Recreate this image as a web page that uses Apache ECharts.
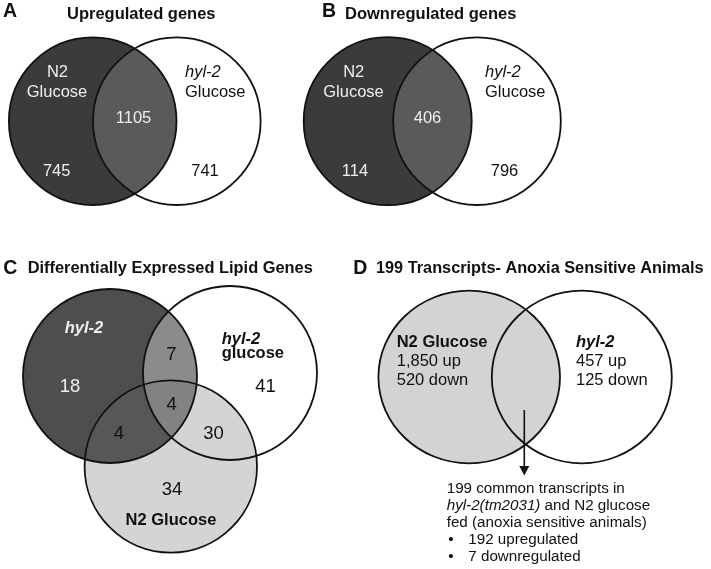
<!DOCTYPE html>
<html><head><meta charset="utf-8">
<script src="https://cdn.jsdelivr.net/npm/echarts@6/dist/echarts.min.js"></script>
<style>html,body{margin:0;padding:0;background:#fff}#chart{width:711px;height:569px}</style>
</head><body><div id="chart"></div>
<script>
// ---------------- DATA ----------------
const panelLetters = ['A', 'B', 'C', 'D'];
const panelTitles = ['Upregulated genes', 'Downregulated genes',
  'Differentially Expressed Lipid Genes', '199 Transcripts- Anoxia Sensitive Animals'];
const upSetNames = [['N2', 'Glucose'], ['hyl-2', 'Glucose']];
const upCounts = [745, 1105, 741];          // N2 only, both, hyl-2 only
const downSetNames = [['N2', 'Glucose'], ['hyl-2', 'Glucose']];
const downCounts = [114, 406, 796];        // N2 only, both, hyl-2 only
const lipidSetNames = ['hyl-2', ['hyl-2', 'glucose'], 'N2 Glucose'];
// hyl-2 only, hyl-2∩hyl-2 glucose, hyl-2 glucose only, all three, hyl-2∩N2, hyl-2 glucose∩N2, N2 only
const lipidCounts = [18, 7, 41, 4, 4, 30, 34];
const anoxiaSetNames = ['N2 Glucose', 'hyl-2'];
const anoxiaUp = [1850, 457];
const anoxiaDown = [520, 125];
const commonTotal = 199;
const commonUpDown = [192, 7];

// ---------------- LAYOUT / STYLE ----------------
const FF = '"Liberation Sans", Arial, Helvetica, sans-serif';
const LIGHT = '#eeeeee', DARK = '#111';
const circles = [
  // panel A
  {cx: 92.7, cy: 121.2, rx: 83.8, ry: 83.8, fill: '#3b3b3b'},
  {cx: 176.8, cy: 121.2, rx: 83.8, ry: 83.8, fill: 'rgba(255,255,255,0.16)'},
  // panel B
  {cx: 387.7, cy: 121.2, rx: 84, ry: 84, fill: '#3b3b3b'},
  {cx: 477, cy: 121.2, rx: 83.8, ry: 83.8, fill: 'rgba(255,255,255,0.16)'},
  // panel C
  {cx: 110, cy: 376, rx: 87, ry: 87, fill: '#4e4e4e'},
  {cx: 230, cy: 373, rx: 87, ry: 87, fill: 'rgba(255,255,255,0.35)'},
  {cx: 170.8, cy: 466.5, rx: 86.2, ry: 86.2, fill: 'rgba(109,109,109,0.294)'},
  // panel D
  {cx: 469.2, cy: 377, rx: 90.8, ry: 86.3, fill: '#d3d3d3'},
  {cx: 581.8, cy: 377, rx: 90, ry: 86.3, fill: 'rgba(255,255,255,0)'}
];

function lab(x, y, text, o) {
  return Object.assign({x, y, text: String(text), size: 16.5, color: DARK, align: 'center',
    weight: 'normal', style: 'normal'}, o || {});
}
const labels = [];
// titles
const letterPos = [[3, 11.5], [322, 11.5], [3.3, 268.4], [353.3, 268.4]];
const titlePos = [[67, 14], [345, 14], [27.7, 268.6], [376, 268.6]];
const titleSize = [16.5, 16.5, 16.4, 16.3];
panelLetters.forEach((t, i) => labels.push(lab(letterPos[i][0], letterPos[i][1], t,
  {size: 19.5, weight: 'bold', align: 'left'})));
panelTitles.forEach((t, i) => labels.push(lab(titlePos[i][0], titlePos[i][1], t,
  {size: titleSize[i], weight: 'bold', align: 'left'})));
// panel A
labels.push(lab(57.5, 72.5, upSetNames[0][0], {color: LIGHT}));
labels.push(lab(57, 92, upSetNames[0][1], {color: LIGHT}));
labels.push(lab(185, 72.5, upSetNames[1][0], {align: 'left', style: 'italic'}));
labels.push(lab(185, 92, upSetNames[1][1], {align: 'left'}));
labels.push(lab(56.7, 171, upCounts[0], {color: LIGHT}));
labels.push(lab(133.5, 118.5, upCounts[1], {color: LIGHT}));
labels.push(lab(205, 171, upCounts[2]));
// panel B
labels.push(lab(353.7, 72.5, downSetNames[0][0], {color: LIGHT}));
labels.push(lab(353.5, 92, downSetNames[0][1], {color: LIGHT}));
labels.push(lab(485, 72.5, downSetNames[1][0], {align: 'left', style: 'italic'}));
labels.push(lab(485, 92, downSetNames[1][1], {align: 'left'}));
labels.push(lab(355, 171, downCounts[0], {color: LIGHT}));
labels.push(lab(427.5, 118.5, downCounts[1], {color: LIGHT}));
labels.push(lab(504.5, 171, downCounts[2]));
// panel C
labels.push(lab(84, 328.5, lipidSetNames[0], {color: LIGHT, weight: 'bold', style: 'italic'}));
labels.push(lab(221.7, 339.8, lipidSetNames[1][0], {align: 'left', weight: 'bold', style: 'italic'}));
labels.push(lab(221.7, 353.7, lipidSetNames[1][1], {align: 'left', weight: 'bold'}));
labels.push(lab(171, 520.8, lipidSetNames[2], {weight: 'bold'}));
const lipidPos = [[70, 386.7], [171.5, 354.5], [265.5, 386.7], [171.7, 404.7], [119, 434], [213.5, 434], [172, 489.7]];
lipidCounts.forEach((v, i) => labels.push(lab(lipidPos[i][0], lipidPos[i][1], v,
  {size: 18.5, color: i === 0 ? LIGHT : DARK})));
// panel D
const dX = [396.7, 576];
anoxiaSetNames.forEach((n, i) => {
  labels.push(lab(dX[i], 342.3, n, {align: 'left', weight: 'bold', style: i === 1 ? 'italic' : 'normal'}));
  labels.push(lab(dX[i], 361.5, anoxiaUp[i].toLocaleString('en-US') + ' up', {align: 'left'}));
  labels.push(lab(dX[i], 380, anoxiaDown[i] + ' down', {align: 'left'}));
});
const noteSize = 15.2;
labels.push(lab(446.7, 488.8, commonTotal + ' common transcripts in', {align: 'left', size: noteSize}));
labels.push(lab(446.7, 505.6, '{i|hyl-2(tm2031)}{n| and N2 glucose}', {align: 'left', size: noteSize, rich: true}));
labels.push(lab(446.7, 522.4, 'fed (anoxia sensitive animals)', {align: 'left', size: noteSize}));
labels.push(lab(451, 539.4, '•', {size: noteSize}));
labels.push(lab(468.3, 539.4, commonUpDown[0] + ' upregulated', {align: 'left', size: noteSize}));
labels.push(lab(451, 556.6, '•', {size: noteSize}));
labels.push(lab(468.3, 556.6, commonUpDown[1] + ' downregulated', {align: 'left', size: noteSize}));

const arrows = [{x: 524.3, y1: 410, y2: 475.5, head: 9.5, half: 5}];

// ---------------- CHART ----------------
const chart = echarts.init(document.getElementById('chart'), null, {renderer: 'canvas'});

function circleItem(outline) {
  return function (params, api) {
    const c = circles[api.value(2)];
    const p = api.coord([api.value(0), api.value(1)]);
    const s = api.size([c.rx, c.ry]);
    return {
      type: 'ellipse',
      shape: {cx: p[0], cy: p[1], rx: s[0], ry: s[1]},
      style: outline ? {fill: 'none', stroke: '#111', lineWidth: 1.8}
                     : {fill: c.fill, stroke: 'none'}
    };
  };
}
function textItem(params, api) {
  const m = labels[api.value(2)];
  const p = api.coord([api.value(0), api.value(1)]);
  const style = {
    text: m.text, fill: m.color, fontSize: m.size, fontFamily: FF,
    fontWeight: m.weight, fontStyle: m.style, align: m.align, verticalAlign: 'middle'
  };
  if (m.rich) {
    style.rich = {
      i: {fontSize: m.size, fontFamily: FF, fontStyle: 'italic', fill: m.color},
      n: {fontSize: m.size, fontFamily: FF, fontStyle: 'normal', fill: m.color}
    };
  }
  return {type: 'text', x: p[0], y: p[1], style};
}
function arrowItem(params, api) {
  const a = arrows[api.value(3)];
  const p1 = api.coord([api.value(0), api.value(1)]);
  const p2 = api.coord([api.value(0), api.value(2)]);
  return {
    type: 'group',
    children: [
      {type: 'line', shape: {x1: p1[0], y1: p1[1], x2: p2[0], y2: p2[1] - a.head + 1},
        style: {stroke: '#111', lineWidth: 1.6}},
      {type: 'polygon', shape: {points: [[p2[0] - a.half, p2[1] - a.head], [p2[0] + a.half, p2[1] - a.head], [p2[0], p2[1]]]},
        style: {fill: '#111'}}
    ]
  };
}

chart.setOption({
  animation: false,
  backgroundColor: '#fff',
  grid: {left: 0, right: 0, top: 0, bottom: 0},
  xAxis: {type: 'value', min: 0, max: 711, show: false},
  yAxis: {type: 'value', min: 0, max: 569, inverse: true, show: false},
  series: [
    {type: 'custom', name: 'sets', z: 1, silent: true, encode: {x: 0, y: 1},
      data: circles.map((c, i) => [c.cx, c.cy, i]), renderItem: circleItem(false)},
    {type: 'custom', name: 'outlines', z: 2, silent: true, encode: {x: 0, y: 1},
      data: circles.map((c, i) => [c.cx, c.cy, i]), renderItem: circleItem(true)},
    {type: 'custom', name: 'arrow', z: 3, silent: true, encode: {x: 0, y: 1},
      data: arrows.map((a, i) => [a.x, a.y1, a.y2, i]), renderItem: arrowItem},
    {type: 'custom', name: 'labels', z: 4, silent: true, encode: {x: 0, y: 1},
      data: labels.map((m, i) => [m.x, m.y, i]), renderItem: textItem}
  ]
});
</script></body></html>
